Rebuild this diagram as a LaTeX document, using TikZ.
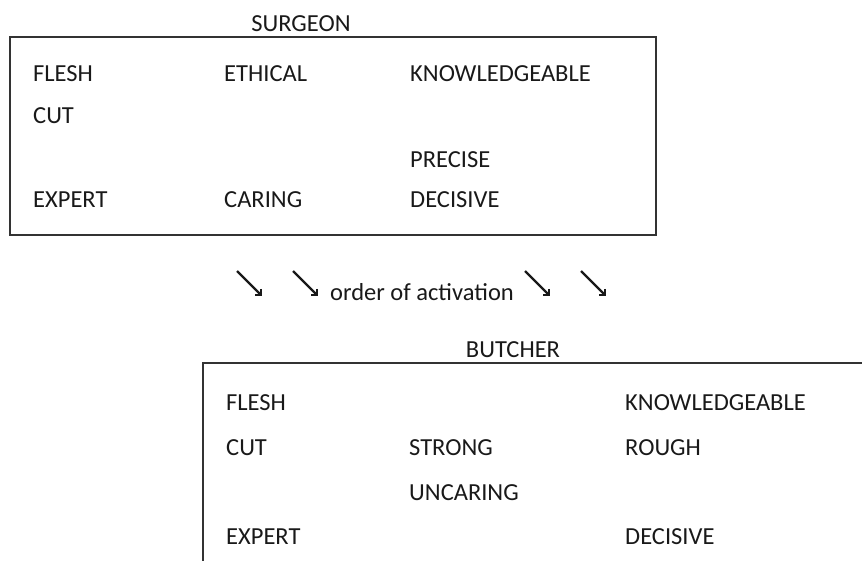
\documentclass[tikz,border=0pt]{standalone}
\usepackage{fontspec}
\setmainfont{Carlito}
\usetikzlibrary{arrows.meta,positioning}

\begin{document}
\begin{tikzpicture}[x=1pt,y=-1pt,
    word/.style={anchor=base west,inner sep=0pt,text=black!90,
                 font=\fontsize{24.5}{27}\selectfont},
    title/.style={word,anchor=base},
    frame/.style={draw=black!80,line width=1.6pt},
    act/.style={draw=black!90,line width=2.2pt,
                -{Straight Barb[angle=90:6pt,line width=2.2pt]}}]
                \useasboundingbox (0,0) rectangle (862,560);
                \clip (0,0) rectangle (862,560);

                % surgeon
                \node[title] (surgeon) at (301,31) {SURGEON};
                \draw[frame] (10,37) rectangle (656,235);
                \node[word] (sflesh)  at (33,81)   {FLESH};
                \node[word] (sethic)  at (224,81)  {ETHICAL};
                \node[word] (sknow)   at (410,81)  {KNOWLEDGEABLE};
                \node[word] (scut)    at (33,123)  {CUT};
                \node[word] (sprec)   at (410,167) {PRECISE};
                \node[word] (sexpert) at (33,207)  {EXPERT};
                \node[word] (scaring) at (224,207) {CARING};
                \node[word] (sdecis)  at (410,207) {DECISIVE};

                % order of activation
                \node[word] (order) at (330,300) {order of activation};
                \coordinate (a1) at (237,271); \coordinate (b1) at (262,296);
                \coordinate (a2) at (293,271); \coordinate (b2) at (318,296);
                \coordinate (a3) at (525,271); \coordinate (b3) at (550,296);
                \coordinate (a4) at (581,271); \coordinate (b4) at (606,296);
                \draw[act] (a1) -- (b1);
                \draw[act] (a2) -- (b2);
                \draw[act] (a3) -- (b3);
                \draw[act] (a4) -- (b4);

                % butcher
                \node[title] (butcher) at (513,357) {BUTCHER};
                \draw[frame] (203,363) rectangle (900,600);
                \node[word] (bflesh)  at (226,410) {FLESH};
                \node[word] (bknow)   at (625,410) {KNOWLEDGEABLE};
                \node[word] (bcut)    at (226,455) {CUT};
                \node[word] (bstrong) at (409,455) {STRONG};
                \node[word] (brough)  at (625,455) {ROUGH};
                \node[word] (buncar)  at (409,500) {UNCARING};
                \node[word] (bexpert) at (226,544) {EXPERT};
                \node[word] (bdecis)  at (625,544) {DECISIVE};
              \end{tikzpicture}
\end{document}
